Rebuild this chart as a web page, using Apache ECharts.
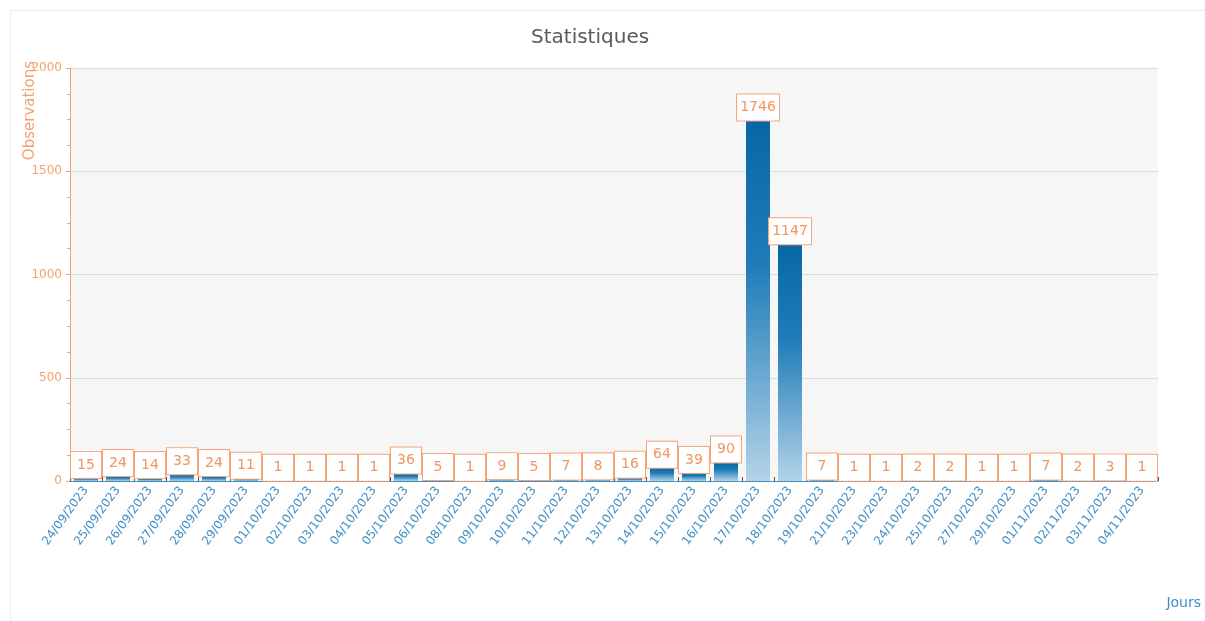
<!DOCTYPE html>
<html><head><meta charset="utf-8">
<script src="https://cdn.jsdelivr.net/npm/echarts@6/dist/echarts.min.js"></script>
<style>html,body{margin:0;padding:0;background:#fff;}#c{width:1205px;height:621px;}
#frame{position:absolute;left:10px;top:10px;width:1200px;height:620px;border:1px solid #ececec;box-sizing:border-box;pointer-events:none;}</style>
</head><body><div id="c"></div><div id="frame"></div>
<script>
const categories = ['24/09/2023','25/09/2023','26/09/2023','27/09/2023','28/09/2023','29/09/2023','01/10/2023','02/10/2023','03/10/2023','04/10/2023','05/10/2023','06/10/2023','08/10/2023','09/10/2023','10/10/2023','11/10/2023','12/10/2023','13/10/2023','14/10/2023','15/10/2023','16/10/2023','17/10/2023','18/10/2023','19/10/2023','21/10/2023','23/10/2023','24/10/2023','25/10/2023','27/10/2023','29/10/2023','01/11/2023','02/11/2023','03/11/2023','04/11/2023'];
const observations = [15,24,14,33,24,11,1,1,1,1,36,5,1,9,5,7,8,16,64,39,90,1746,1147,7,1,1,2,2,1,1,7,2,3,1];
const yTicks = [0,500,1000,1500,2000];

const FONT = 'DejaVu Sans';
const ORANGE = '#f4a06c';
const BLUE = '#3d8fc6';
const chart = echarts.init(document.getElementById('c'));
chart.setOption({
  animation:false,
  title:{text:'Statistiques',left:526,top:23,textStyle:{fontFamily:FONT,fontSize:20,fontWeight:'normal',color:'#5a5a5a'}},
  grid:{left:70,right:47,top:68,bottom:140,show:true,backgroundColor:'#f6f6f6',borderWidth:0},
  xAxis:{type:'category',data:categories,
    axisLine:{lineStyle:{color:BLUE,width:1}},
    axisTick:{show:true,inside:true,length:4,lineStyle:{color:'#555'}},
    axisLabel:{rotate:54,interval:0,color:BLUE,fontFamily:FONT,fontSize:12,margin:7}},
  yAxis:{type:'value',min:yTicks[0],max:yTicks[yTicks.length-1],interval:500,
    axisLine:{show:true,lineStyle:{color:ORANGE}},
    axisTick:{show:true,length:4,lineStyle:{color:ORANGE}},
    minorTick:{show:true,splitNumber:4,length:3,lineStyle:{color:ORANGE}},
    splitLine:{lineStyle:{color:'#dcdcdc'}},
    axisLabel:{color:ORANGE,fontFamily:FONT,fontSize:12,margin:8,formatter:v=>String(v)}},
  graphic:[
    {type:'text',left:23,top:61,rotation:Math.PI/2,style:{text:'Observations',fill:ORANGE,font:'15px "DejaVu Sans"'}},
    {type:'text',right:4,top:596,style:{text:'Jours',fill:BLUE,font:'14px "DejaVu Sans"'}}
  ],
  series:[{type:'bar',barWidth:'75%',
    data:observations.map(v=>({value:v,label:String(v).length>=4?{width:null,padding:[5,11]}:{}})),
    itemStyle:{color:new echarts.graphic.LinearGradient(0,0,0,1,[{offset:0,color:'#0767a6'},{offset:0.4,color:'#1f7cb8'},{offset:1,color:'#b3d3e8'}])},
    label:{show:true,position:'top',distance:0,color:'#f0955e',fontFamily:FONT,fontSize:14,
      backgroundColor:'#fff',borderColor:'#f5a47a',borderWidth:1,width:20,align:'center',padding:[5,5],lineHeight:16}
  }]
});
</script></body></html>
